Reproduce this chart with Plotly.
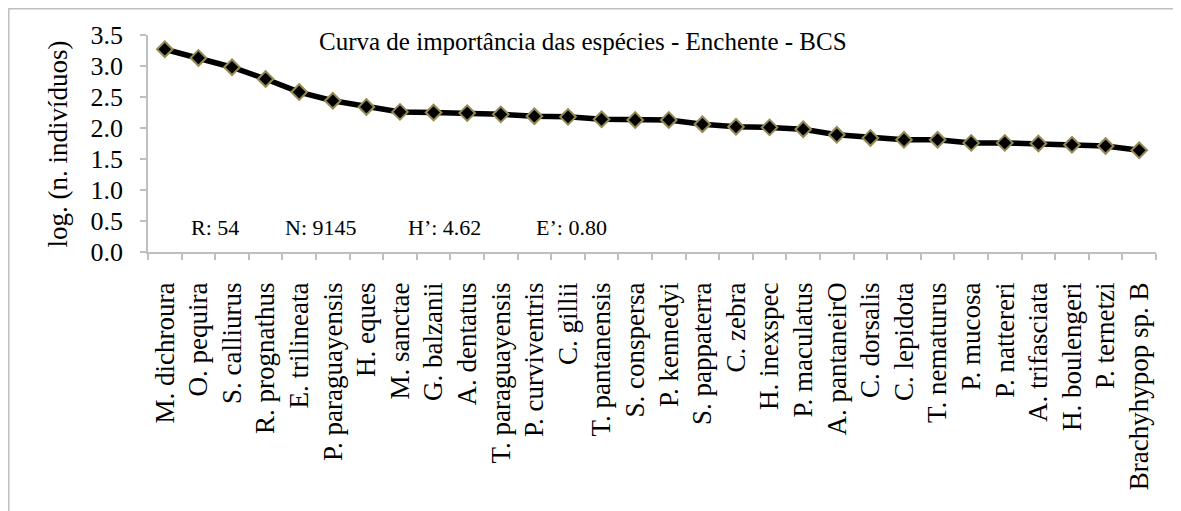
import plotly.graph_objects as go

species = ["M. dichroura", "O. pequira", "S. calliurus", "R. prognathus", "E. trilineata",
           "P. paraguayensis", "H. eques", "M. sanctae", "G. balzanii", "A. dentatus",
           "T. paraguayensis", "P. curviventris", "C. gillii", "T. pantanensis", "S. conspersa",
           "P. kennedyi", "S. pappaterra", "C. zebra", "H. inexspec", "P. maculatus",
           "A. pantaneirO", "C. dorsalis", "C. lepidota", "T. nematurus", "P. mucosa",
           "P. nattereri", "A. trifasciata", "H. boulengeri", "P. ternetzi", "Brachyhypop sp. B"]
log_ind = [3.27, 3.13, 2.98, 2.79, 2.58, 2.44, 2.34, 2.26, 2.25, 2.24,
           2.22, 2.19, 2.18, 2.14, 2.13, 2.13, 2.06, 2.02, 2.01, 1.98,
           1.89, 1.84, 1.81, 1.81, 1.76, 1.76, 1.75, 1.73, 1.71, 1.64]
y_ticks = [0.0, 0.5, 1.0, 1.5, 2.0, 2.5, 3.0, 3.5]
title_text = "Curva de importância das espécies - Enchente - BCS"
y_title = "log. (n. indivíduos)"
stats_labels = ["R: 54", "N: 9145", "H\u2019: 4.62", "E\u2019: 0.80"]
stats_x = [0.0665, 0.1716, 0.2946, 0.4206]

FONT = "Liberation Serif, Times New Roman, serif"
AXC = "#bfbfbf"

fig = go.Figure()
fig.add_trace(go.Scatter(
    x=species, y=log_ind, mode="lines+markers",
    line=dict(color="black", width=5.5),
    marker=dict(symbol="diamond", size=12, color="black",
                line=dict(color="#948a54", width=2)),
    showlegend=False,
))

annotations = [dict(text=title_text, x=0.4315, y=0.968, xref="paper", yref="paper",
                    xanchor="center", yanchor="middle", showarrow=False,
                    font=dict(family=FONT, size=25, color="black")),
               dict(text=y_title, x=-0.0893, y=0.5, xref="paper", yref="paper",
                    xanchor="center", yanchor="middle", textangle=-90, showarrow=False,
                    font=dict(family=FONT, size=27, color="black"))]
for lab, xx in zip(stats_labels, stats_x):
    annotations.append(dict(text=lab, x=xx, y=0.39, xref="paper", yref="y",
                            xanchor="center", yanchor="middle", showarrow=False,
                            font=dict(family=FONT, size=22, color="black")))

# page body has an 8px margin, so margins are offset by 8px
fig.update_layout(
    width=1181, height=511, autosize=False,
    margin=dict(l=140, r=33, t=27, b=267),
    paper_bgcolor="white", plot_bgcolor="white",
    font=dict(family=FONT, color="black"),
    annotations=annotations,
    shapes=[dict(type="path", xref="paper", yref="paper",
                 path="M -0.1381 -1.3 L -0.1381 1.121 L 1.05 1.121",
                 line=dict(color=AXC, width=1.5))],
)
fig.update_xaxes(
    type="category", range=[-0.5, 29.5], tickson="boundaries", ticks="outside", ticklen=6,
    tickcolor=AXC, tickwidth=1.5, showline=True, linecolor=AXC, linewidth=1.5,
    tickangle=-90, ticklabelstandoff=18, automargin=False,
    tickfont=dict(family=FONT, size=27, color="black"),
    showgrid=False, zeroline=False,
)
fig.update_yaxes(
    range=[0, 3.5], tickvals=y_ticks, tickformat=".1f", ticks="outside", ticklen=6,
    tickcolor=AXC, tickwidth=1.5, showline=True, linecolor=AXC, linewidth=1.5,
    ticklabelstandoff=12, automargin=False,
    tickfont=dict(family=FONT, size=26, color="black"), showgrid=False, zeroline=False,
)
fig.write_html("out.html")
